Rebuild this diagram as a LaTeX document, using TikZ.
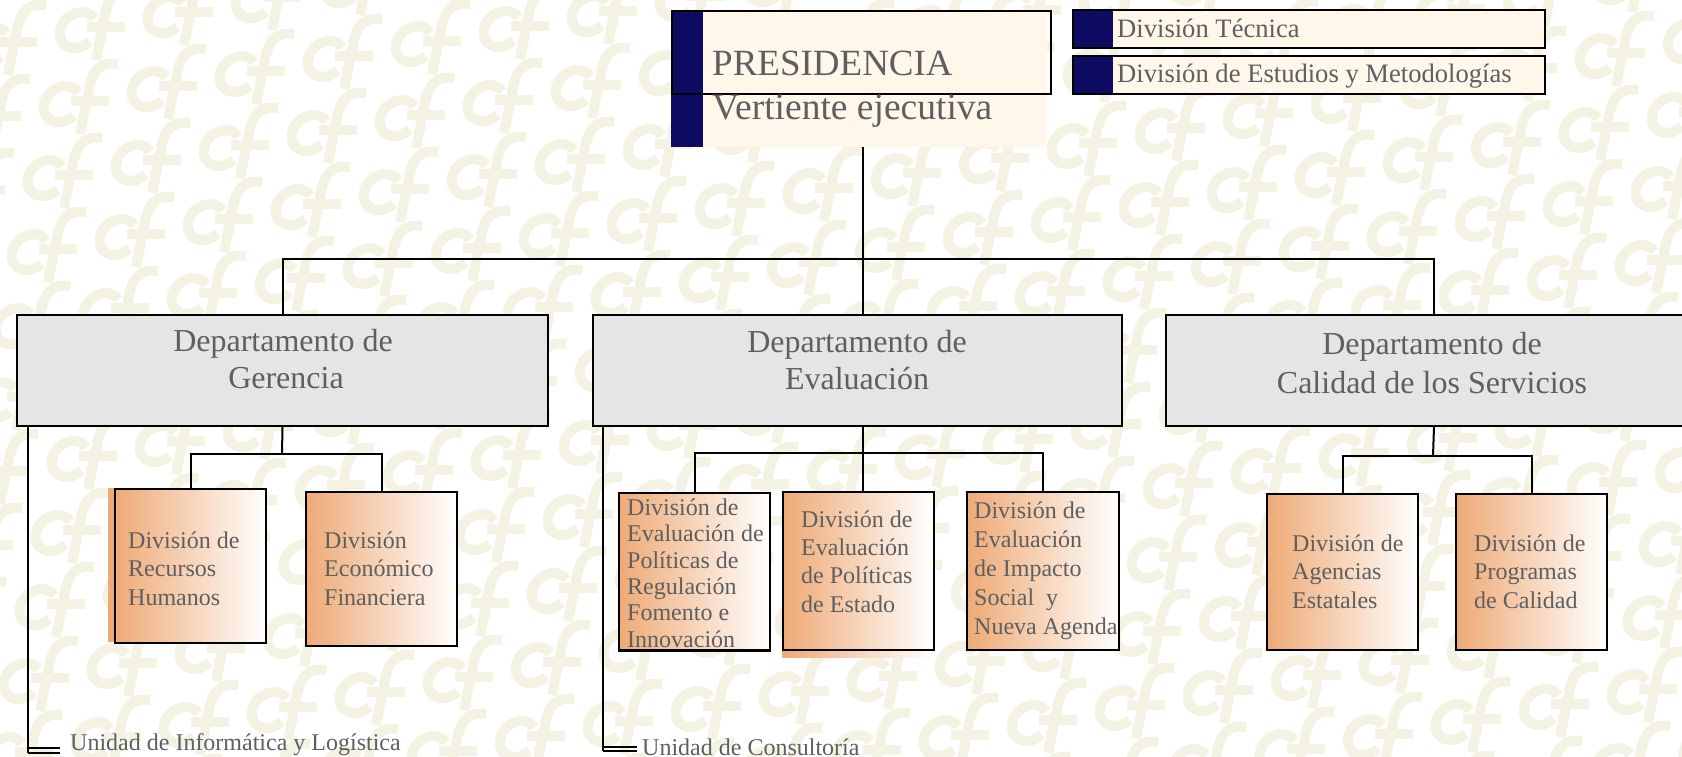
\documentclass[tikz,border=0pt]{standalone}
\usepackage{fontspec}
\setmainfont{Liberation Serif}
\definecolor{navy}{RGB}{14,12,98}
\definecolor{cream}{RGB}{255,247,233}
\definecolor{txtgray}{RGB}{95,95,95}
\definecolor{deptgray}{RGB}{229,229,229}
\definecolor{orng}{RGB}{238,170,118}
\definecolor{wmark}{RGB}{244,242,227}
\begin{document}
\begin{tikzpicture}[x=1pt,y=-1pt,
  conn/.style={draw=black, line width=2pt},
  dbl/.style={draw=black, line width=1.5pt},
  wm/.style={draw=wmark, line width=10pt},
  deptbox/.style={draw=black, line width=2pt, fill=deptgray, anchor=north west, inner sep=0pt, minimum height=111pt},
  childbox/.style={draw=black, line width=2pt, left color=orng, right color=white, anchor=north west, inner sep=0pt, minimum width=151pt},
  txt/.style={inner sep=0pt, anchor=base west, text=txtgray},
  ctxt/.style={inner sep=0pt, anchor=base, text=txtgray, font=\fontsize{32}{38}\selectfont},
  small/.style={font=\fontsize{24}{28}\selectfont},
]
\useasboundingbox (0,0) rectangle (1682,757);
\fill[white] (0,0) rectangle (1682,757);
% watermark pattern
\begin{scope}
\clip (0,0) rectangle (1682,757);
\foreach \i in {0,...,22}{
 \foreach \j in {0,...,16}{
  \pgfmathsetmacro\gx{88*\i-16*\j-10}
  \pgfmathsetmacro\gy{-15*\i+74*\j+45}
  \begin{scope}[shift={(\gx,\gy)},xslant=0.2]
   \draw[wm] (13.8,11.6) arc[start angle=40,end angle=320,radius=18];
   \draw[wm] (24,30) -- (24,-16) .. controls (24,-36) and (32,-42) .. (48,-40);
   \draw[wm] (8,-3) -- (46,-3);
  \end{scope}
 }
}
\end{scope}

% Presidencia
\node[fill=cream, anchor=north west, inner sep=0pt, minimum width=376pt, minimum height=137pt] (pres) at (671,10) {};
\fill[navy] (pres.north west) rectangle (703,147);
\node[draw=black, line width=2pt, anchor=north west, inner sep=0pt, minimum width=379pt, minimum height=83pt] (presbox) at (671,10) {};
\node[txt, font=\fontsize{37}{44}\selectfont] (p1) at (712,76) {PRESIDENCIA};
\node[txt, font=\fontsize{37.5}{44}\selectfont] (p2) at (712,120) {Vertiente ejecutiva};

% right divisions
\node[fill=cream, anchor=north west, inner sep=0pt, minimum width=472pt, minimum height=38pt] (dt) at (1073,10) {};
\fill[navy] (dt.north west) rectangle (1113,48);
\draw[conn] (dt.north west) rectangle (dt.south east);
\node[txt, font=\fontsize{26.6}{30}\selectfont] (dtt) at (1117,38) {División Técnica};
\node[fill=cream, anchor=north west, inner sep=0pt, minimum width=472pt, minimum height=38pt] (de) at (1073,56) {};
\fill[navy] (de.north west) rectangle (1113,94);
\draw[conn] (de.north west) rectangle (de.south east);
\node[txt, font=\fontsize{26.6}{30}\selectfont] (det) at (1117,83) {División de Estudios y Metodologías};

% departments
\node[deptbox, minimum width=531pt] (ger) at (16,314) {};
\node[deptbox, minimum width=529pt] (ev) at (592,314) {};
\node[deptbox, minimum width=536pt] (cal) at (1165,314) {};
\node[ctxt] (ger1) at (283,351) {Departamento de};
\node[ctxt] (ger2) at (286,388) {Gerencia};
\node[ctxt] (ev1) at (857,352) {Departamento de};
\node[ctxt] (ev2) at (857,389) {Evaluación};
\node[ctxt] (cal1) at (1432,354) {Departamento de};
\node[ctxt] (cal2) at (1432,393) {Calidad de los Servicios};

% top connectors
\coordinate (bus) at (863,259);
\draw[conn] (pres.south -| bus) -- (ev.north -| bus);
\draw[conn] (ger.north) |- (bus) -| (cal.north);

% Gerencia children
\fill[orng] (108,488) rectangle (114,642);
\node[childbox, minimum height=154pt] (rrhh) at (114,488) {};
\node[childbox, minimum height=154pt] (eco) at (305,491) {};
\coordinate (gj) at (282,454);
\draw[conn] (ger.south) -- (gj);
\draw[conn] (rrhh.north) |- (gj) -| (eco.north);
\foreach \t [count=\k] in {División de,Recursos,Humanos}
  \node[txt, small] (rrhh-\k) at (128,{548+28.5*(\k-1)}) {\t};
\foreach \t [count=\k] in {División,Económico,Financiera}
  \node[txt, small] (eco-\k) at (324,{548+28.5*(\k-1)}) {\t};

% Evaluacion children
\shade[left color=orng, right color=white] (782,649) rectangle (933,657);
\node[childbox, minimum height=157pt] (reg) at (618,492) {};
\node[childbox, minimum height=158pt] (est) at (782,491) {};
\node[childbox, minimum width=152pt, minimum height=158pt] (imp) at (966,491) {};
\coordinate (ej) at (863,453);
\draw[conn] (ev.south -| ej) -- (ej);
\draw[conn] (reg.north) |- (ej) -| (imp.north);
\draw[conn] (ej) -- (est.north -| ej);
\begin{scope}
\clip (reg.north west) rectangle (reg.south east);
\foreach \t [count=\k] in {División de,Evaluación de,Políticas de,Regulación,Fomento e,Innovación}
  \node[txt, small] (reg-\k) at (627,{515.5+26.3*(\k-1)}) {\t};
\end{scope}
\draw[conn] (reg.south west) -- (reg.south east);
\foreach \t [count=\k] in {División de,Evaluación,de Políticas,de Estado}
  \node[txt, small] (est-\k) at (801,{527+28.4*(\k-1)}) {\t};
\foreach \t [count=\k] in {División de,Evaluación,de Impacto,Social\ \ y,Nueva Agenda}
  \node[txt, small] (imp-\k) at (974,{518+29.2*(\k-1)}) {\t};

% Calidad children
\node[childbox, minimum height=156pt] (ag) at (1266,493) {};
\node[childbox, minimum height=156pt] (pr) at (1455,493) {};
\coordinate (cj) at (1433,456);
\draw[conn] (cal.south) -- (cj);
\draw[conn] (ag.north) |- (cj) -| (pr.north);
\foreach \t [count=\k] in {División de,Agencias,Estatales}
  \node[txt, small] (ag-\k) at (1292,{551+28.5*(\k-1)}) {\t};
\foreach \t [count=\k] in {División de,Programas,de Calidad}
  \node[txt, small] (pr-\k) at (1474,{551+28.5*(\k-1)}) {\t};

% Unidades
\node[txt, small] (ui) at (70,750) {Unidad de Informática y Logística};
\coordinate (gTop) at (28,425);
\coordinate (gBot) at (28,753);
\coordinate (gA) at (60,748);
\coordinate (gB) at (60,753);
\draw[conn] (gTop) -- (gBot);
\draw[dbl] (gBot) -- (gB);
\draw[dbl] (gBot |- gA) -- (gA);

\node[txt, small] (uc) at (642,755) {Unidad de Consultoría};
\coordinate (eTop) at (603,425);
\coordinate (eBot) at (603,751);
\coordinate (eA) at (637,747);
\coordinate (eB) at (637,751);
\draw[conn] (eTop) -- (eBot);
\draw[dbl] (eBot) -- (eB);
\draw[dbl] (eBot |- eA) -- (eA);
\end{tikzpicture}
\end{document}
